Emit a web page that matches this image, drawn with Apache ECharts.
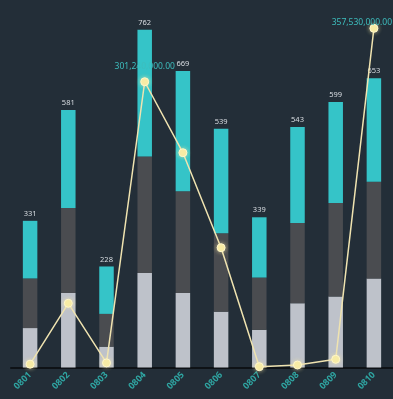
<!DOCTYPE html>
<html>
<head>
<meta charset="utf-8">
<script src="https://cdn.jsdelivr.net/npm/echarts@6/dist/echarts.min.js"></script>
<style>
html,body{margin:0;padding:0;background:#232e38;}
#c{width:393px;height:399px;}
</style>
</head>
<body>
<div id="c"></div>
<script>
var categories = ['0801','0802','0803','0804','0805','0806','0807','0808','0809','0810'];
var lightSeg = [89, 168, 47, 213, 168, 126, 85, 145, 160, 201];
var darkSeg  = [112, 192, 74, 263, 230, 177, 118, 181, 211, 218];
var tealSeg  = [130, 221, 107, 286, 271, 236, 136, 217, 228, 234];
var lineVals = [3520000, 67680000, 4870000, 301240000, 226410000, 126280000, 850000, 2630000, 8640000, 357530000];
var labeledPoints = [3, 9];

var totals = categories.map(function(_, i){ return lightSeg[i] + darkSeg[i] + tealSeg[i]; });

function fmt(v){
  return v.toLocaleString('en-US', {minimumFractionDigits: 2, maximumFractionDigits: 2});
}

var chart = echarts.init(document.getElementById('c'), null, {renderer: 'canvas'});
chart.setOption({
  backgroundColor: '#232e38',
  animation: false,
  textStyle: {fontFamily: 'Noto Sans, DejaVu Sans, sans-serif'},
  grid: {left: 11, right: -7, top: 13, bottom: 31.5, containLabel: false},
  xAxis: {
    type: 'category',
    data: categories,
    axisLine: {lineStyle: {color: '#0e1216', width: 2}},
    axisTick: {show: false},
    axisLabel: {rotate: 45, color: '#2fa5a2', fontSize: 9, fontWeight: 'bold', margin: 6, interval: 0}
  },
  yAxis: [
    {type: 'value', min: 0, max: 800, show: false, splitLine: {show: false}},
    {type: 'value', min: 0, max: 373700000, show: false, splitLine: {show: false}}
  ],
  series: [
    {type: 'bar', stack: 'a', data: lightSeg, barWidth: 14.5, itemStyle: {color: '#bec2ca'}},
    {type: 'bar', stack: 'a', data: darkSeg, barWidth: 14.5, itemStyle: {color: '#4a4c50'}},
    {type: 'bar', stack: 'a', data: tealSeg, barWidth: 14.5, itemStyle: {color: '#35c4c8'},
      label: {show: true, position: 'top', color: '#d8dde2', fontSize: 7.5, distance: 3,
        formatter: function(p){ return totals[p.dataIndex]; }}},
    {type: 'line', yAxisIndex: 1, z: 5,
      data: lineVals.map(function(v, i){
        return {value: v, label: {show: labeledPoints.indexOf(i) >= 0}};
      }),
      symbol: 'circle', symbolSize: 8,
      lineStyle: {color: '#efe3b0', width: 1.5},
      itemStyle: {color: '#f6eba5', borderColor: '#fff7cc', borderWidth: 1, shadowBlur: 4, shadowColor: 'rgba(255,240,170,0.6)'},
      label: {position: 'top', color: '#3dbdbd', fontSize: 8.5, distance: 6,
        formatter: function(p){ return fmt(p.value); }}
    }
  ]
});
chart.setOption({
  series: [{}, {}, {}, {
    labelLayout: function(params){
      var r = params.labelRect;
      if (r.x + r.width > 392) {
        return {x: 392 - r.width, align: 'left'};
      }
      return {};
    }
  }]
});
</script>
</body>
</html>
